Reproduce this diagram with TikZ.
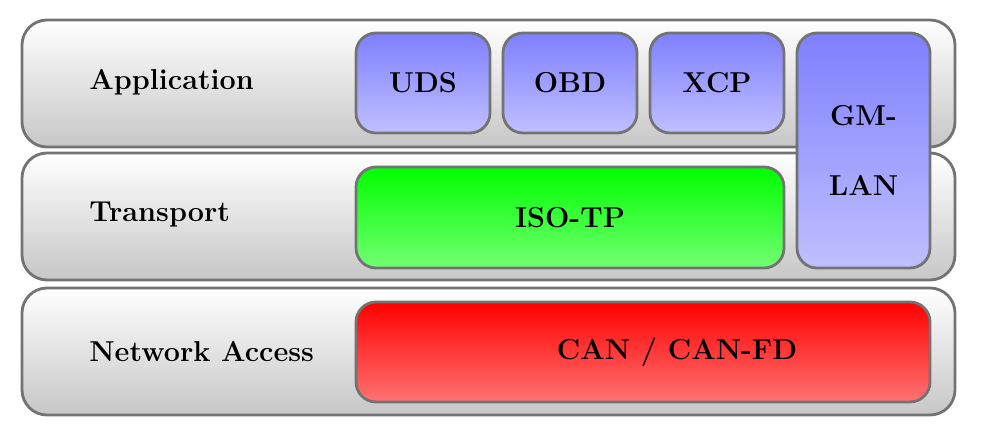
\documentclass[tikz,border=0pt]{standalone}
\usepackage{tikz}
\begin{document}
\begin{tikzpicture}[x=0.5pt,y=-0.5pt,
  layer/.style={draw=black!55, line width=1.4pt, rounded corners=12.5pt,
    top color=white, bottom color=black!22, minimum width=466.5pt, minimum height=63.5pt, inner sep=0pt},
  protobox/.style={draw=black!55, line width=1.4pt, rounded corners=10pt, inner sep=0pt,
    font=\Large\bfseries, text=black},
  bluebox/.style={protobox, top color=blue!50, bottom color=blue!25},
  greenbox/.style={protobox, top color=green, bottom color=green!55},
  redbox/.style={protobox, top color=red, bottom color=red!55},
  lbl/.style={anchor=west, font=\Large\bfseries, inner sep=0pt}]
\useasboundingbox (0,0) rectangle (989,427);
\node[layer] (app) at (488.5,83.5) {};
\node[layer] (trans) at (488.5,216.5) {};
\node[layer] (net) at (488.5,351.5) {};
\node[lbl] (lapp) at (89,82) {Application};
\node[lbl] (ltrans) at (89,215) {Transport};
\node[lbl] (lnet) at (89,352) {Network Access};
\node[bluebox, minimum width=67pt, minimum height=50pt] (uds) at (423,83) {UDS};
\node[bluebox, minimum width=67pt, minimum height=50pt] (obd) at (570,83) {OBD};
\node[bluebox, minimum width=67pt, minimum height=50pt] (xcp) at (717,83) {XCP};
\node[bluebox, minimum width=66.5pt, minimum height=117.5pt, align=center] (gm) at (863.5,150.5) {GM-\\[17pt]LAN};
\node[greenbox, minimum width=214pt, minimum height=50.5pt] (iso) at (570,217.5) {ISO-TP};
\node[redbox, minimum width=287pt, minimum height=50pt] (can) at (643,352) {};
\node[font=\Large\bfseries, inner sep=0pt] (cantext) at (677,352) {CAN / CAN-FD};
\end{tikzpicture}
\end{document}
